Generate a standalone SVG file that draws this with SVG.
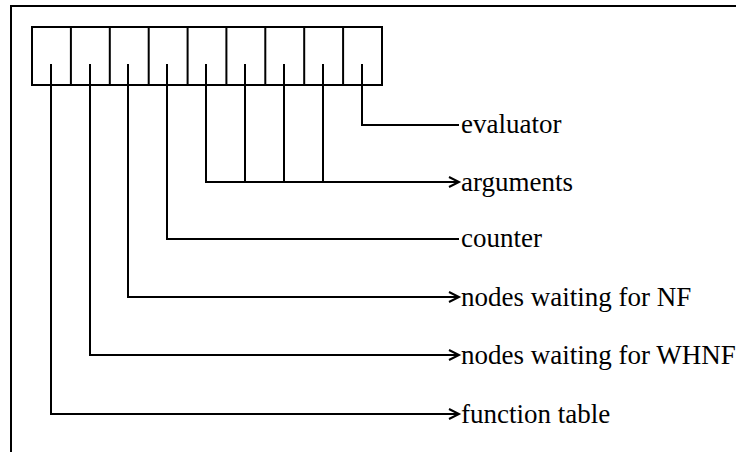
<svg xmlns="http://www.w3.org/2000/svg" width="736" height="452" viewBox="0 0 736 452">
<style>
.ln{fill:none;stroke:#000;stroke-width:2;stroke-linejoin:miter}
.lb{font-family:'Liberation Serif','Times New Roman',serif;font-size:27px;fill:#000}
</style>
<defs>
<marker id="arr" markerUnits="userSpaceOnUse" markerWidth="14" markerHeight="14" refX="11" refY="6" orient="auto" viewBox="0 0 14 12">
<path d="M1,1 L11,6 L1,11" fill="none" stroke="#000" stroke-width="2"/>
</marker>
</defs>
<rect width="736" height="452" fill="#fff"/>
<rect x="11" y="6" width="800" height="500" class="ln"/>
<g id="record">
<rect x="32" y="27" width="350" height="58" class="ln"/>
<path class="ln" d="M70.9,27V85M109.8,27V85M148.7,27V85M187.6,27V85M226.4,27V85M265.3,27V85M304.2,27V85M343.1,27V85"/>
</g>
<g id="connectors">
<path class="ln" d="M362,64V125H459"/>
<path class="ln" d="M245,64V182M284,64V182M323,64V182"/>
<path class="ln" d="M206,64V182H459" marker-end="url(#arr)"/>
<path class="ln" d="M167,64V239H459"/>
<path class="ln" d="M128,64V297H459" marker-end="url(#arr)"/>
<path class="ln" d="M90,64V355H459" marker-end="url(#arr)"/>
<path class="ln" d="M51,64V414H459" marker-end="url(#arr)"/>
</g>
<g id="evaluator"><text class="lb" x="461" y="133">evaluator</text></g>
<g id="arguments"><text class="lb" x="461" y="191">arguments</text></g>
<g id="counter"><text class="lb" x="461" y="247">counter</text></g>
<g id="nf"><text class="lb" x="461" y="306">nodes waiting for NF</text></g>
<g id="whnf"><text class="lb" x="461" y="364">nodes waiting for WHNF</text></g>
<g id="ftable"><text class="lb" x="461" y="423">function table</text></g>
</svg>
